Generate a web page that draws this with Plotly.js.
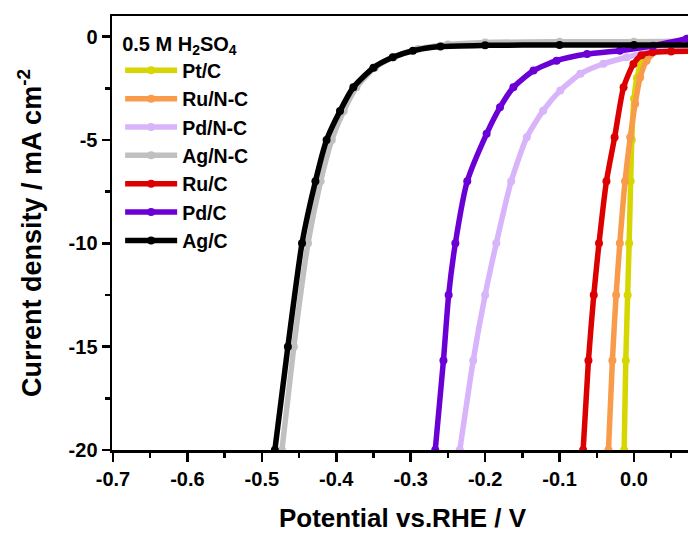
<!DOCTYPE html>
<html>
<head>
<meta charset="utf-8">
<script src="https://cdn.plot.ly/plotly-3.0.1.min.js"></script>
<style>
html,body{margin:0;padding:0;overflow:hidden;background:#fff;}
#chart{width:700px;height:533px;}
</style>
</head>
<body>
<div id="chart"></div>
<script>
// ---- data (x: potential V vs RHE, y: current density mA cm^-2)
const seriesNames = ["Pt/C", "Ru/N-C", "Pd/N-C", "Ag/N-C", "Ru/C", "Pd/C", "Ag/C"];
const seriesColors = ["#d6d600", "#f89c4c", "#d8b4fa", "#c0c0c0", "#dc0000", "#6a00d6", "#000000"];

const ptC_x = [-0.0132, -0.011, -0.0085, -0.0065, -0.0045, -0.003, 0.000, 0.004, 0.012, 0.025, 0.045, 0.075];
const ptC_y = [-20, -15.67, -12.5, -10, -7, -5, -3, -2, -1, -0.5, -0.3, -0.25];

const ruNC_x = [-0.0343, -0.029, -0.024, -0.019, -0.012, -0.005, 0.0016, 0.0083, 0.017, 0.031, 0.049, 0.071, 0.08];
const ruNC_y = [-20, -15.67, -12.5, -10, -7, -4.87, -3.25, -1.97, -1.16, -0.68, -0.45, -0.4, -0.4];

const pdNC_x = [-0.234, -0.216, -0.200, -0.185, -0.165, -0.144, -0.122, -0.099, -0.072, -0.041, -0.010, 0.017, 0.050, 0.080];
const pdNC_y = [-20, -15.67, -12.5, -10, -7, -4.87, -3.58, -2.6, -1.8, -1.31, -1.0, -0.76, -0.55, -0.45];

const agNC_x = [-0.473, -0.457, -0.438, -0.421, -0.406, -0.390, -0.373, -0.348, -0.323, -0.290, -0.250, -0.200, -0.100, 0.000, 0.080];
const agNC_y = [-20, -15, -10, -7, -5, -3.6, -2.45, -1.5, -1.0, -0.6, -0.38, -0.28, -0.25, -0.24, -0.22];

const ruC_x = [-0.0683, -0.0612, -0.054, -0.047, -0.037, -0.026, -0.014, -0.0007, 0.010, 0.025, 0.050, 0.080];
const ruC_y = [-20, -15.67, -12.5, -10, -7, -4.87, -2.45, -1.32, -0.9, -0.76, -0.72, -0.7];

const pdC_x = [-0.267, -0.256, -0.249, -0.240, -0.224, -0.198, -0.180, -0.162, -0.135, -0.104, -0.063, -0.019, 0.026, 0.071, 0.080];
const pdC_y = [-20, -15.67, -12.5, -10, -7, -4.7, -3.42, -2.45, -1.64, -1.16, -0.84, -0.68, -0.44, -0.1, -0.05];

const agC_x = [-0.4825, -0.465, -0.446, -0.428, -0.413, -0.395, -0.377, -0.350, -0.324, -0.297, -0.260, -0.200, -0.100, 0.000, 0.080];
const agC_y = [-20, -15, -10, -7, -5, -3.6, -2.45, -1.5, -1.0, -0.68, -0.48, -0.42, -0.4, -0.4, -0.4];

const xTickVals = [-0.7, -0.6, -0.5, -0.4, -0.3, -0.2, -0.1, 0.0];
const xTickText = ["-0.7", "-0.6", "-0.5", "-0.4", "-0.3", "-0.2", "-0.1", "0.0"];
const yTickVals = [0, -5, -10, -15, -20];
const yTickText = ["0", "-5", "-10", "-15", "-20"];

const xs = [ptC_x, ruNC_x, pdNC_x, agNC_x, ruC_x, pdC_x, agC_x];
const ys = [ptC_y, ruNC_y, pdNC_y, agNC_y, ruC_y, pdC_y, agC_y];

const FONT = "Liberation Sans, Arial, sans-serif";

const traces = seriesNames.map((name, i) => ({
  type: "scatter",
  mode: "lines+markers",
  name: name,
  x: xs[i],
  y: ys[i],
  line: {color: seriesColors[i], width: 5.5, shape: "spline", smoothing: 0.6},
  marker: {color: seriesColors[i], size: 8, symbol: "circle"},
  cliponaxis: true
}));

const layout = {
  width: 700,
  height: 533,
  margin: {l: 112, r: 7, t: 16, b: 83},
  paper_bgcolor: "#fff",
  plot_bgcolor: "#fff",
  font: {family: FONT, color: "#000", size: 20, weight: "bold"},
  showlegend: true,
  legend: {
    x: 0.014, y: 0.979, xanchor: "left", yanchor: "top",
    bgcolor: "rgba(0,0,0,0)",
    font: {family: FONT, size: 19.5, color: "#000", weight: "bold"},
    title: {text: "0.5 M H<sub>2</sub>SO<sub>4</sub>", font: {family: FONT, size: 20, color: "#000", weight: "bold"}},
    traceorder: "normal",
    itemwidth: 52
  },
  xaxis: {
    range: [-0.7013, 0.0793],
    showline: true, linecolor: "#000", linewidth: 2.5, mirror: true,
    showgrid: false, zeroline: false,
    ticks: "outside", ticklen: 9, tickwidth: 2.5, tickcolor: "#000",
    tickvals: xTickVals, ticktext: xTickText,
    tickfont: {family: FONT, size: 20, color: "#000", weight: "bold"},
    minor: {dtick: 0.05, tick0: 0, ticks: "outside", ticklen: 5, tickwidth: 2.5, tickcolor: "#000", showgrid: false},
    title: {text: "Potential vs.RHE / V", font: {family: FONT, size: 26, color: "#000", weight: "bold"}, standoff: 28},
    automargin: false
  },
  yaxis: {
    range: [-20, 1.0],
    showline: true, linecolor: "#000", linewidth: 2.5, mirror: true,
    showgrid: false, zeroline: false,
    ticks: "outside", ticklen: 8, tickwidth: 2.5, tickcolor: "#000",
    tickvals: yTickVals, ticktext: yTickText,
    tickfont: {family: FONT, size: 20, color: "#000", weight: "bold"},
    minor: {dtick: 2.5, tick0: 0, ticks: "outside", ticklen: 5, tickwidth: 2.5, tickcolor: "#000", showgrid: false},
    title: {text: "Current density / mA cm<sup>-2</sup>", font: {family: FONT, size: 27, color: "#000", weight: "bold"}, standoff: 19},
    automargin: false
  }
};

Plotly.newPlot("chart", traces, layout, {staticPlot: true, displayModeBar: false});
</script>
</body>
</html>
